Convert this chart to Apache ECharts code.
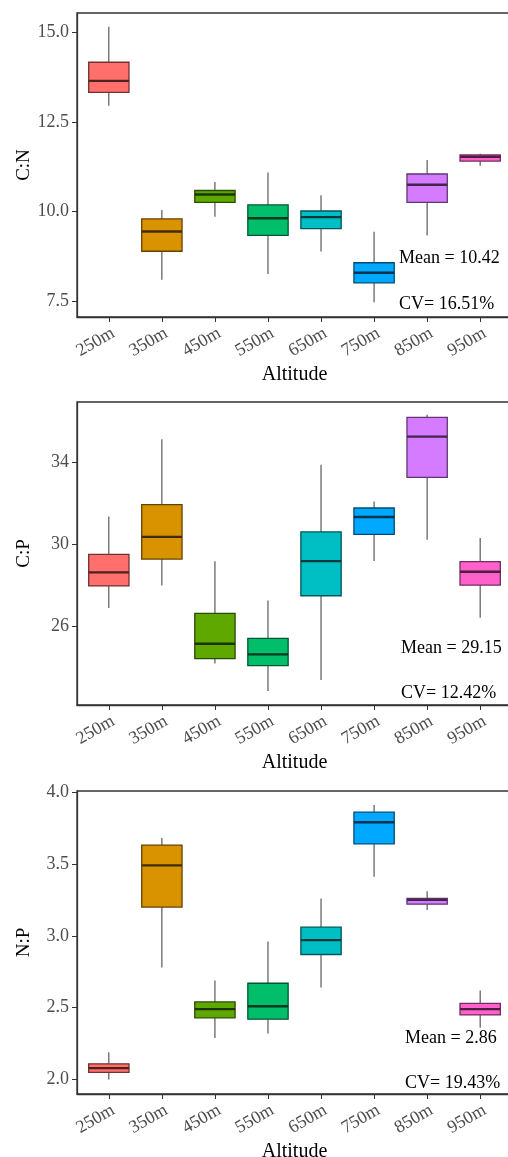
<!DOCTYPE html>
<html>
<head>
<meta charset="utf-8">
<script src="https://cdn.jsdelivr.net/npm/echarts@6/dist/echarts.min.js"></script>
<style>
  html, body { margin: 0; padding: 0; background: #fff; }
  #chart { width: 508px; height: 1157px; }
</style>
</head>
<body>
<div id="chart"></div>
<script>
// Altitude classes
const categories = ['250m', '350m', '450m', '550m', '650m', '750m', '850m', '950m'];

// Box statistics per altitude: [lower whisker, Q1, median, Q3, upper whisker]
const cnStats = [
  [12.95, 13.32, 13.64, 14.16, 15.15],
  [8.11, 8.90, 9.45, 9.80, 10.05],
  [9.86, 10.26, 10.48, 10.59, 10.83],
  [8.27, 9.34, 9.82, 10.19, 11.09],
  [8.89, 9.53, 9.85, 10.02, 10.46],
  [7.48, 8.02, 8.30, 8.58, 9.44],
  [9.34, 10.26, 10.75, 11.05, 11.44],
  [11.28, 11.41, 11.53, 11.58, 11.61]
];
const cpStats = [
  [26.91, 27.99, 28.65, 29.53, 31.38],
  [28.01, 29.30, 30.38, 31.95, 35.14],
  [24.20, 24.44, 25.17, 26.65, 29.19],
  [22.86, 24.10, 24.65, 25.43, 27.28],
  [23.40, 27.51, 29.20, 30.62, 33.90],
  [29.20, 30.50, 31.35, 31.79, 32.11],
  [30.24, 33.28, 35.27, 36.21, 36.34],
  [26.44, 28.03, 28.68, 29.17, 30.33]
];
const npStats = [
  [2.00, 2.05, 2.08, 2.11, 2.19],
  [2.78, 3.20, 3.49, 3.63, 3.68],
  [2.29, 2.43, 2.49, 2.54, 2.69],
  [2.32, 2.42, 2.51, 2.67, 2.96],
  [2.64, 2.87, 2.97, 3.06, 3.26],
  [3.41, 3.64, 3.79, 3.86, 3.91],
  [3.18, 3.22, 3.25, 3.26, 3.31],
  [2.36, 2.45, 2.49, 2.53, 2.62]
];

// Tick labels for each panel
const cnTicks = [7.5, 10.0, 12.5, 15.0];
const cpTicks = [26, 30, 34];
const npTicks = [2.0, 2.5, 3.0, 3.5, 4.0];

// Summary statistics
const panelNames = ['C:N', 'C:P', 'N:P'];
const meanValues = ['10.42', '29.15', '2.86'];
const cvValues = ['16.51%', '12.42%', '19.43%'];

const fills = ['#FF6F6B', '#D99200', '#5EA800', '#00BE6A', '#00BFC4', '#00A9FF', '#D47BFF', '#FF61CC'];

function shade(hex, k) {
  const n = parseInt(hex.slice(1), 16);
  const r = Math.round(((n >> 16) & 255) * k);
  const g = Math.round(((n >> 8) & 255) * k);
  const b = Math.round((n & 255) * k);
  return 'rgb(' + r + ',' + g + ',' + b + ')';
}

const FONT = '"Liberation Serif", "Times New Roman", serif';

const panels = [
  { stats: cnStats, ticks: cnTicks, digits: 1, min: 7.07, max: 15.53, top: 13, height: 304 },
  { stats: cpStats, ticks: cpTicks, digits: 0, min: 22.18, max: 36.96, top: 402, height: 303 },
  { stats: npStats, ticks: npTicks, digits: 1, min: 1.90, max: 4.007, top: 791, height: 303 }
];

const textPos = [
  { x: 399, meanY: 258, cvY: 304 },
  { x: 401, meanY: 648, cvY: 693 },
  { x: 405, meanY: 1038, cvY: 1083 }
];

const xTickValues = categories.map((c, i) => i);

function renderBox(params, api) {
  const x = api.value(0);
  const lo = api.coord([x, api.value(1)]);
  const q1 = api.coord([x, api.value(2)]);
  const md = api.coord([x, api.value(3)]);
  const q3 = api.coord([x, api.value(4)]);
  const hi = api.coord([x, api.value(5)]);
  const half = api.size([0.76, 0])[0] / 2;
  const fill = fills[params.dataIndex];
  const whisker = { stroke: '#4a4a4a', lineWidth: 1.1 };
  return {
    type: 'group',
    children: [
      { type: 'line', shape: { x1: lo[0], y1: lo[1], x2: q1[0], y2: q1[1] }, style: whisker },
      { type: 'line', shape: { x1: q3[0], y1: q3[1], x2: hi[0], y2: hi[1] }, style: whisker },
      {
        type: 'rect',
        shape: { x: q3[0] - half, y: q3[1], width: half * 2, height: q1[1] - q3[1] },
        style: { fill: fill, stroke: shade(fill, 0.45), lineWidth: 1.3 }
      },
      {
        type: 'line',
        shape: { x1: md[0] - half, y1: md[1], x2: md[0] + half, y2: md[1] },
        style: { stroke: shade(fill, 0.3), lineWidth: 2.4 }
      }
    ]
  };
}

const option = {
  backgroundColor: '#fff',
  animation: false,
  grid: panels.map(p => ({
    left: 77, right: -4, top: p.top, height: p.height,
    containLabel: false,
    outerBoundsMode: 'none',
    show: true, borderColor: '#333', borderWidth: 1.3, backgroundColor: 'transparent'
  })),
  xAxis: panels.map((p, k) => ({
    type: 'value',
    gridIndex: k,
    min: -0.6,
    max: 7.6,
    name: 'Altitude',
    nameLocation: 'middle',
    nameGap: 48,
    nameTextStyle: { fontFamily: FONT, fontSize: 20, color: '#000' },
    axisLine: { show: true, onZero: false, lineStyle: { color: '#333', width: 1.3 } },
    axisTick: { show: true, customValues: xTickValues, length: 5, lineStyle: { color: '#333' } },
    axisLabel: {
      customValues: xTickValues,
      rotate: 30,
      margin: 7,
      verticalAlign: 'top',
      fontFamily: FONT,
      fontSize: 18,
      color: '#4D4D4D',
      formatter: v => categories[Math.round(v)] || ''
    },
    splitLine: { show: false }
  })),
  yAxis: panels.map((p, k) => ({
    type: 'value',
    gridIndex: k,
    min: p.min,
    max: p.max,
    name: panelNames[k],
    nameLocation: 'middle',
    nameRotate: 90,
    nameGap: 43,
    nameMoveOverlap: false,
    nameTextStyle: { fontFamily: FONT, fontSize: 19, color: '#000' },
    axisLine: { show: true, onZero: false, lineStyle: { color: '#333', width: 1.3 } },
    axisTick: { show: true, customValues: p.ticks, length: 5, lineStyle: { color: '#333' } },
    axisLabel: {
      customValues: p.ticks,
      margin: 8,
      fontFamily: FONT,
      fontSize: 18,
      color: '#4D4D4D',
      formatter: v => Number(v).toFixed(p.digits)
    },
    splitLine: { show: false }
  })),
  series: panels.map((p, k) => ({
    type: 'custom',
    xAxisIndex: k,
    yAxisIndex: k,
    renderItem: renderBox,
    encode: { x: 0, y: [1, 2, 3, 4, 5] },
    data: p.stats.map((s, i) => [i].concat(s))
  })),
  graphic: textPos.flatMap((t, k) => [
    {
      type: 'text', x: t.x, y: t.meanY,
      style: { text: 'Mean = ' + meanValues[k], font: '18px ' + FONT, fill: '#000', verticalAlign: 'middle' }
    },
    {
      type: 'text', x: t.x, y: t.cvY,
      style: { text: 'CV= ' + cvValues[k], font: '18px ' + FONT, fill: '#000', verticalAlign: 'middle' }
    }
  ])
};

const chart = echarts.init(document.getElementById('chart'), null, { renderer: 'canvas' });
chart.setOption(option);
</script>
</body>
</html>
